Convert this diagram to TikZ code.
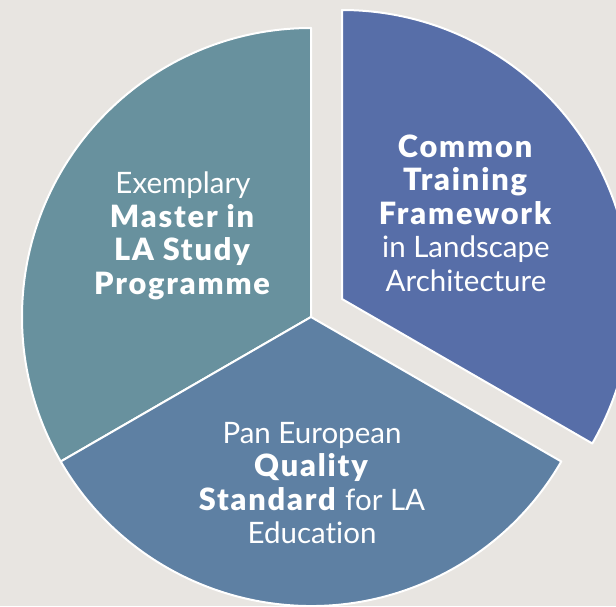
\documentclass[tikz,border=0pt]{standalone}
\usepackage{fontspec}
\setmainfont[Ligatures={NoCommon}, BoldFont={Lato Black},
  BoldFeatures={Scale=1.04, LetterSpace=6}]{Lato}
\definecolor{pieteal}{RGB}{104,145,158}
\definecolor{pieslate}{RGB}{94,128,163}
\definecolor{pieblue}{RGB}{87,110,168}
\definecolor{piebg}{RGB}{232,229,225}
\usetikzlibrary{calc}

\begin{document}
\begin{tikzpicture}[x=1pt, y=1pt,
  slice/.style={draw=white, line width=2pt, line join=round},
  slicelabel/.style={font=\fontsize{29.5}{33.5}\selectfont, text=white, align=center}
]
\fill[piebg] (0,0) rectangle (616,606);
\useasboundingbox (0,0) rectangle (616,606);

% pie centre and the pulled-out slice
\coordinate (ctr) at (311,289);
\coordinate (pull) at (342,307);

\begin{scope}
\clip (0,0) rectangle (616,606);
\draw[slice, fill=pieteal] (ctr) -- ++(90:289)
  arc[start angle=90, end angle=210, radius=289] -- cycle;
\draw[slice, fill=pieslate] (ctr) -- ++(210:289)
  arc[start angle=210, end angle=330, radius=289] -- cycle;
\draw[slice, fill=pieblue] (pull) -- ++(-30:289)
  arc[start angle=-30, end angle=90, radius=289] -- cycle;
\end{scope}

\node[slicelabel] (ctf) at (466,393)
  {\textbf{Common}\\\textbf{Training}\\\textbf{Framework}\\in Landscape\\Architecture};
\node[slicelabel] (master) at (183,370)
  {Exemplary\\\textbf{Master in}\\\textbf{LA Study}\\\textbf{Programme}};
\node[slicelabel] (quality) at (312,123)
  {Pan European\\\textbf{Quality}\\\textbf{Standard} for LA\\Education};
\end{tikzpicture}
\end{document}
